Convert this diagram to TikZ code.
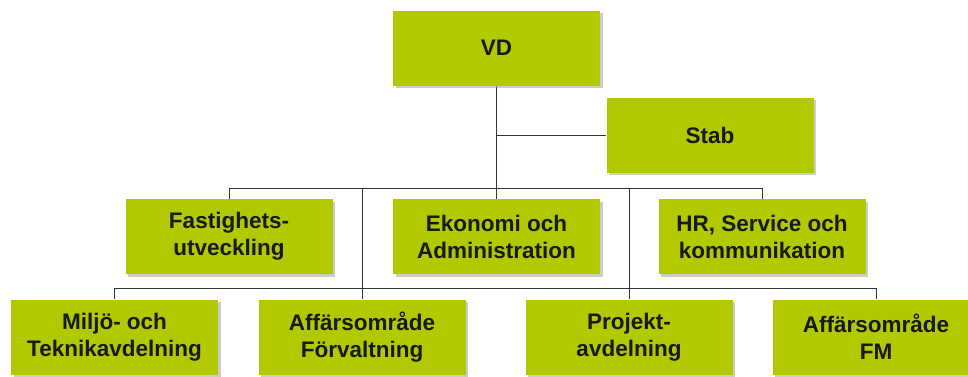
\documentclass[tikz,border=0pt]{standalone}
\usepackage{fontspec}
\setmainfont{Liberation Sans}
\usepackage{xcolor}
\usetikzlibrary{shadows}
\definecolor{boxgreen}{RGB}{178,200,0}

\begin{document}
\begin{tikzpicture}[x=1pt,y=-1pt,
    unit/.style={fill=boxgreen, minimum width=207pt, minimum height=75pt, inner sep=0pt,
        align=center, text=black!90, font=\bfseries\fontsize{22.5}{27}\selectfont,
        drop shadow={shadow xshift=2.5pt, shadow yshift=-2.5pt, fill=black!40}},
    conn/.style={draw=black!80, line width=0.8pt}]
                \useasboundingbox (0,0) rectangle (968,376);
                \coordinate (bus1) at (0,188);
                \coordinate (bus2) at (0,288);
                \draw[conn] (496.5,86) -- (496.5,188);
                \node[unit] (vd) at (496.5,48) {VD};
                \node[unit] (stab) at (710,135) {Stab};
                \node[unit] (fast) at (229,236.5) {Fastighets-\\utveckling};
                \node[unit] (ekon) at (496.5,236.5) {Ekonomi och\\Administration};
                \node[unit] (hr) at (762,236.5) {HR, Service och\\kommunikation};
                \node[unit] (miljo) at (114.5,337) {Miljö- och\\Teknikavdelning};
                \node[unit] (forv) at (362,337) {Affärsområde\\Förvaltning};
                \node[unit] (proj) at (629,337) {Projekt-\\avdelning};
                \node[unit] (fm) at (876,337) {Affärsområde\\FM};
                \draw[conn] (vd.south |- stab.west) -- (stab.west);
                \draw[conn] (fast.north) -- (fast.north |- bus1) -- (hr.north |- bus1) -- (hr.north);
                \draw[conn] (ekon.north |- bus1) -- (ekon.north);
                \draw[conn] (forv.north |- bus1) -- (forv.north);
                \draw[conn] (proj.north |- bus1) -- (proj.north);
                \draw[conn] (miljo.north) -- (miljo.north |- bus2) -- (fm.north |- bus2) -- (fm.north);
            \end{tikzpicture}
\end{document}
